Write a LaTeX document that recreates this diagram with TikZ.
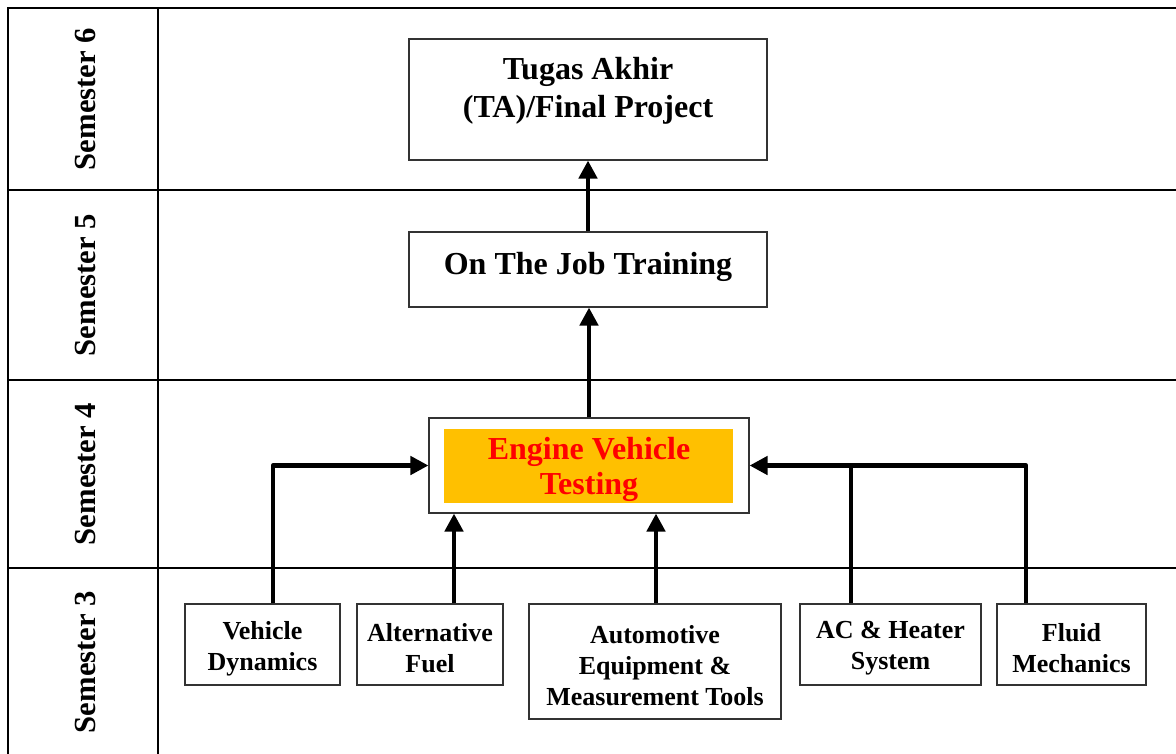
\documentclass[tikz,border=0pt]{standalone}
\usepackage{fontspec}
\setmainfont{Liberation Serif}
\usetikzlibrary{arrows.meta}
\definecolor{evtorange}{HTML}{FFC000}
\definecolor{evtred}{HTML}{FF0000}
\begin{document}
\begin{tikzpicture}[x=0.75pt,y=-0.75pt,
  grid/.style={line width=1.9pt,line cap=rect},
  box/.style={draw=black!80,line width=0.8pt,fill=white,inner sep=0pt},
  topfont/.style={align=center,inner sep=0pt,font=\fontsize{24}{28.5}\selectfont\bfseries},
  lowtext/.style={align=center,inner sep=0pt,font=\fontsize{19.5}{23.25}\selectfont\bfseries},
  semlabel/.style={rotate=90,font=\fontsize{23}{27}\selectfont\bfseries},
  arr/.style={line width=3.5pt,line join=round,-{Triangle[length=13.5pt,width=13.5pt]}},
  link/.style={line width=3.5pt,line join=round}]
\useasboundingbox (0,0) rectangle (1176,753);
% table
\draw[grid] (8,753) -- (8,8) -- (1176,8);
\draw[grid] (158,8) -- (158,753);
\draw[grid] (8,190) -- (1176,190);
\draw[grid] (8,380) -- (1176,380);
\draw[grid] (8,568) -- (1176,568);
% semester labels
\node[semlabel] (s6) at (85,99) {Semester 6};
\node[semlabel] (s5) at (85,285) {Semester 5};
\node[semlabel] (s4) at (85,474) {Semester 4};
\node[semlabel] (s3) at (85,662) {Semester 3};
% main boxes
\node[box,minimum width=358*0.75pt,minimum height=121*0.75pt] (ta) at (588,99.5) {};
\node[topfont] (tatext) at (588,90.5) {Tugas Akhir\\(TA)/Final Project};
\node[box,minimum width=358*0.75pt,minimum height=75*0.75pt] (ojt) at (588,269.5) {};
\node[topfont] (ojttext) at (588,266.5) {On The Job Training};
\node[box,minimum width=320*0.75pt,minimum height=95*0.75pt] (evt) at (589,465.5) {};
\node[fill=evtorange,minimum width=289*0.75pt,minimum height=74*0.75pt,inner sep=0pt] (evti) at (588.5,466) {};
\node[align=center,inner sep=0pt,text=evtred,font=\fontsize{24}{26.25}\selectfont\bfseries] (evttext) at (589,469.5) {Engine Vehicle\\Testing};
% semester 3 boxes
\node[box,minimum width=155*0.75pt,minimum height=81*0.75pt] (vd) at (262.5,644.5) {};
\node[lowtext] (vdtext) at (262.5,648.5) {Vehicle\\Dynamics};
\node[box,minimum width=146*0.75pt,minimum height=81*0.75pt] (af) at (430,644.5) {};
\node[lowtext] (aftext) at (430,648.5) {Alternative\\Fuel};
\node[box,minimum width=252*0.75pt,minimum height=115*0.75pt] (ame) at (655,661.5) {};
\node[lowtext] (ametext) at (655,665.5) {Automotive\\Equipment \&\\Measurement Tools};
\node[box,minimum width=181*0.75pt,minimum height=81*0.75pt] (ac) at (890.5,644.5) {};
\node[lowtext] (actext) at (890.5,648.5) {AC \& Heater\\System};
\node[box,minimum width=149*0.75pt,minimum height=81*0.75pt] (fm) at (1071.5,644.5) {};
\node[lowtext] (fmtext) at (1071.5,648.5) {Fluid\\Mechanics};
% connector x positions
\coordinate (xvd) at (273,0);
\coordinate (xaf) at (454,0);
\coordinate (xame) at (656,0);
\coordinate (xac) at (851,0);
\coordinate (xfm) at (1026,0);
% connectors
\draw[arr] (evt.north) -- (evt.north |- ojt.south);
\draw[arr] (ojt.north) -- (ojt.north |- ta.south);
\draw[arr] (vd.north -| xvd) |- (evt.west);
\draw[arr] (af.north -| xaf) -- (evt.south -| xaf);
\draw[arr] (ame.north -| xame) -- (evt.south -| xame);
\draw[link] (ac.north -| xac) -- (evt.east -| xac);
\draw[arr] (fm.north -| xfm) |- (evt.east);
\end{tikzpicture}
\end{document}
